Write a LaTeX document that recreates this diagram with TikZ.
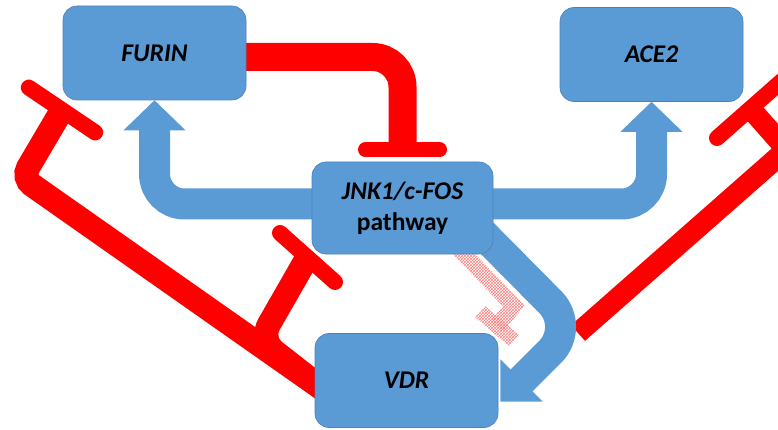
\documentclass[tikz,border=0pt]{standalone}
\usepackage{fontspec}
\setmainfont{Carlito}
\usetikzlibrary{patterns,calc}
\definecolor{ofblue}{HTML}{5B9BD5}
\definecolor{ofedge}{HTML}{4A7FB8}
\definecolor{ofred}{HTML}{FF0000}
\pgfdeclarelayer{back}
\pgfsetlayers{back,main}
\begin{document}
\begin{tikzpicture}[x=1pt,y=-1pt,
  box/.style={draw=ofedge, line width=0.6pt, fill=ofblue, rounded corners=14pt,
    minimum width=183pt, minimum height=94pt, inner sep=0pt,
    font=\fontsize{25.5}{31}\selectfont\bfseries, align=center},
  blueband/.style={draw=ofblue, line width=31pt, rounded corners=30pt},
  bluehead/.style={fill=ofblue},
  redband/.style={draw=ofred, line width=#1},
  redbar/.style={draw=ofred, line width=15pt, line cap=round},
  hatch/.style={pattern=crosshatch, pattern color=red!50}]
\useasboundingbox (0,0) rectangle (778,430);
\node[box] (furin) at (154.5,53) {\itshape FURIN};
\node[box] (ace2) at (651.5,54.5) {\itshape ACE2};
\node[box, minimum width=181pt, minimum height=92pt] (jnk) at (402.5,208) {{\itshape JNK1/c-FOS}\\pathway};
\node[box] (vdr) at (406.5,380.5) {\itshape VDR};
\begin{pgfonlayer}{back}
  % FURIN -| JNK inhibition
  \draw[redband=28pt, rounded corners=30pt] ([xshift=-5pt,yshift=-4pt]furin.east) -| ([yshift=12pt]jnk.north);
  \draw[redbar] ([xshift=-37pt,yshift=12pt]jnk.north) -- ([xshift=37pt,yshift=12pt]jnk.north);
  % VDR -| FURIN (left)
  \coordinate (lcorner) at (22,178);
  \coordinate (lbar) at (62,110);
  \draw[redband=24pt, rounded corners=12pt] ([xshift=10pt,yshift=-10pt]vdr.west) -- (lcorner) -- (lbar);
  \draw[redbar, line width=16pt] (28.8,87.6) -- (95.2,132.4);
  % VDR -| JNK (branch)
  \coordinate (bjoin) at (260,340);
  \coordinate (bbar) at (307,258);
  \draw[redband=24pt, rounded corners=18pt] ([xshift=10pt,yshift=-10pt]vdr.west) -- (bjoin) -- (bbar);
  \draw[redbar, line width=16pt] (280,233) -- (335,282);
  % right inhibition towards ACE2
  \coordinate (rstart) at (578,333);
  \coordinate (rcorner) at (786.5,149.5);
  \coordinate (rbar) at (750,108);
  \draw[redband=21pt, rounded corners=10pt] (rstart) -- (rcorner) -- (rbar);
  \draw[redbar, line width=16pt] (717,138) -- (784,79);
  % hatched faded inhibition
  \fill[hatch] (463.8,242.4) -- (524.8,305.6) -- (503.1,331.2) -- (490.9,320.8) -- (503.2,306.4) -- (452.2,253.6) -- cycle;
  \fill[hatch] (485.1,306.0) -- (518.7,334.6) -- (508.9,346.0) -- (475.3,317.4) -- cycle;
  % blue arrows
  \draw[blueband] ([yshift=4pt]jnk.center) -| ([yshift=-28pt]furin.south);
  \fill[bluehead] ([xshift=-31pt,yshift=-30pt]furin.south) -- (furin.south) -- ([xshift=31pt,yshift=-30pt]furin.south) -- cycle;
  \draw[blueband] ([yshift=4pt]jnk.center) -| ([yshift=-28pt]ace2.south);
  \fill[bluehead] ([xshift=-31pt,yshift=-30pt]ace2.south) -- (ace2.south) -- ([xshift=31pt,yshift=-30pt]ace2.south) -- cycle;
  \draw[blueband, rounded corners=35pt] ([xshift=67.5pt,yshift=-13pt]jnk.center) -- (575,327) -- (519,383);
  \fill[bluehead] (500.3,359.3) -- (542.7,401.7) -- (500.3,401.7) -- cycle;
\end{pgfonlayer}
\end{tikzpicture}
\end{document}
